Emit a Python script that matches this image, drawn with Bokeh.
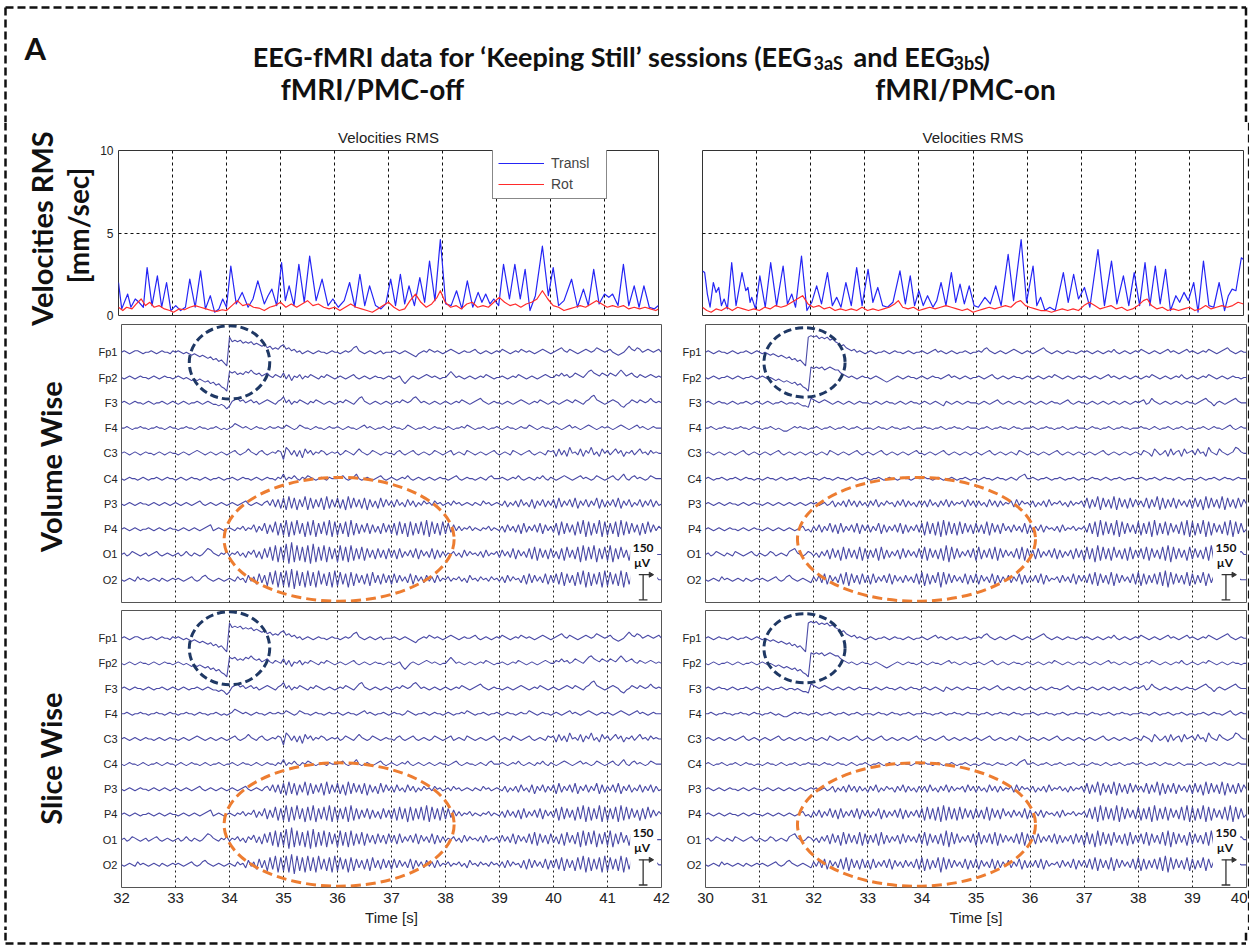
import numpy as np
from bokeh.plotting import figure
from bokeh.layouts import row, column
from bokeh.models import Range1d, LinearAxis, FixedTicker, Grid, Legend, LegendItem
from bokeh.core.properties import value
from bokeh.embed import file_html
from bokeh.resources import INLINE

# ---------------------------------------------------------------- data
CHANNELS = ["Fp1", "Fp2", "F3", "F4", "C3", "C4", "P3", "P4", "O1", "O2"]
TIME_OFF = (32, 42)          # fMRI/PMC-off window [s]
TIME_ON = (30, 40)           # fMRI/PMC-on window [s]
VEL_TICKS = [0, 5, 10]
UV_PER_ROW = 150             # vertical distance between channels [µV]
UV_PER_LEVEL = 9             # one trace level step [µV]
SCALE_UV = 150               # calibration bar [µV]

# Velocities RMS [mm/sec], (time, value) vertices
TRANSL_OFF = [(32.00,2.0),(32.06,0.4),(32.17,1.3),(32.23,0.5),(32.31,1.0),(32.38,0.8),(32.46,0.5),(32.53,2.9),(32.62,0.6),(32.72,2.4),(32.80,0.5),(32.89,2.0),(32.97,0.3),(33.06,0.6),(33.15,0.3),(33.24,0.5),(33.32,2.2),(33.42,0.5),(33.52,2.7),(33.61,0.4),(33.70,1.2),(33.78,0.2),(33.86,0.4),(33.93,1.0),(34.00,0.5),(34.08,3.0),(34.18,0.7),(34.29,1.4),(34.40,0.5),(34.49,1.0),(34.58,2.1),(34.70,0.7),(34.77,1.2),(34.84,1.6),(34.93,0.6),(35.02,3.2),(35.09,0.9),(35.16,1.8),(35.25,0.6),(35.34,3.1),(35.44,0.8),(35.54,3.6),(35.66,0.9),(35.77,2.2),(35.88,0.6),(35.97,1.0),(36.07,0.5),(36.18,0.9),(36.28,2.0),(36.38,0.5),(36.47,2.5),(36.56,0.6),(36.65,1.8),(36.76,0.6),(36.86,0.4),(36.95,0.7),(37.04,2.2),(37.13,0.6),(37.22,2.5),(37.30,0.7),(37.38,1.8),(37.48,0.6),(37.58,2.3),(37.67,0.8),(37.76,3.3),(37.86,0.9),(37.96,4.6),(38.06,0.7),(38.16,0.6),(38.26,1.5),(38.36,0.4),(38.46,2.1),(38.56,0.5),(38.66,1.4),(38.73,0.8),(38.80,1.3),(38.88,0.7),(38.95,1.0),(39.04,0.6),(39.13,3.1),(39.24,1.0),(39.34,3.1),(39.44,1.0),(39.53,2.8),(39.62,0.3),(39.72,1.2),(39.85,4.2),(39.96,1.2),(40.05,2.9),(40.15,0.6),(40.25,0.9),(40.39,2.2),(40.50,0.5),(40.61,1.6),(40.70,0.6),(40.80,2.8),(40.90,0.7),(41.00,1.3),(41.08,1.1),(41.15,1.3),(41.25,0.6),(41.35,3.1),(41.45,0.6),(41.55,1.8),(41.64,0.5),(41.73,1.8),(41.83,0.5),(41.92,0.4),(42.00,0.6)]
ROT_OFF = [(32.00,0.5),(32.08,0.3),(32.15,0.5),(32.25,0.4),(32.33,0.7),(32.42,1.0),(32.50,0.6),(32.58,0.8),(32.66,0.5),(32.75,0.6),(32.85,0.4),(32.95,0.3),(33.02,0.2),(33.12,0.4),(33.22,0.35),(33.32,0.5),(33.42,0.6),(33.52,0.5),(33.62,0.4),(33.72,0.3),(33.82,0.25),(33.92,0.35),(34.00,0.3),(34.10,0.6),(34.20,0.9),(34.30,0.6),(34.40,0.7),(34.50,0.5),(34.60,0.45),(34.70,0.3),(34.80,0.5),(34.90,0.6),(35.00,0.8),(35.10,0.5),(35.20,0.7),(35.30,0.5),(35.40,0.7),(35.50,0.9),(35.60,0.6),(35.70,0.7),(35.80,0.5),(35.90,0.4),(36.00,0.5),(36.10,0.3),(36.20,0.5),(36.30,0.7),(36.40,0.5),(36.50,0.4),(36.60,0.3),(36.70,0.2),(36.80,0.4),(36.90,0.6),(37.00,0.8),(37.10,0.5),(37.20,0.3),(37.30,0.4),(37.40,0.9),(37.50,1.3),(37.60,0.8),(37.70,0.5),(37.80,0.7),(37.90,1.1),(37.96,1.5),(38.05,0.8),(38.15,0.5),(38.25,0.6),(38.35,0.4),(38.45,0.7),(38.55,0.8),(38.65,0.5),(38.75,0.6),(38.85,0.5),(38.95,0.8),(39.05,1.1),(39.15,0.8),(39.25,0.6),(39.35,0.7),(39.45,0.5),(39.55,0.7),(39.65,0.8),(39.75,1.0),(39.85,1.5),(39.95,1.0),(40.05,0.6),(40.15,0.5),(40.25,0.3),(40.35,0.4),(40.45,0.5),(40.55,0.6),(40.65,0.5),(40.75,0.7),(40.85,0.9),(40.95,0.7),(41.05,0.5),(41.15,0.6),(41.25,0.5),(41.35,0.6),(41.45,0.4),(41.55,0.5),(41.65,0.4),(41.75,0.5),(41.85,0.4),(41.95,0.3),(42.00,0.4)]
TRANSL_ON = [(30.00,2.7),(30.04,2.6),(30.09,1.3),(30.14,0.5),(30.20,2.0),(30.25,1.4),(30.30,1.7),(30.35,0.6),(30.40,1.0),(30.46,0.4),(30.54,3.2),(30.62,0.6),(30.73,2.6),(30.80,1.5),(30.84,1.7),(30.88,0.8),(30.91,1.1),(30.98,0.4),(31.06,2.4),(31.16,0.5),(31.26,3.2),(31.37,0.6),(31.49,3.0),(31.57,0.7),(31.65,1.3),(31.72,0.5),(31.83,3.6),(31.93,0.3),(32.02,0.8),(32.11,1.8),(32.20,0.7),(32.31,2.6),(32.40,0.6),(32.48,1.1),(32.56,0.5),(32.65,2.0),(32.75,0.6),(32.85,2.9),(32.95,0.6),(33.06,2.8),(33.15,0.8),(33.24,1.7),(33.33,0.6),(33.42,0.5),(33.52,0.8),(33.65,2.7),(33.75,0.7),(33.84,2.4),(33.92,0.6),(34.00,1.5),(34.08,0.6),(34.16,1.2),(34.26,0.5),(34.33,0.9),(34.41,2.0),(34.50,0.6),(34.60,2.6),(34.68,0.8),(34.76,1.9),(34.84,0.7),(34.93,1.8),(35.02,0.6),(35.10,0.5),(35.22,1.1),(35.32,0.7),(35.42,1.8),(35.52,0.6),(35.65,3.7),(35.75,0.9),(35.89,4.6),(35.99,0.8),(36.11,3.0),(36.18,0.6),(36.25,1.1),(36.33,0.3),(36.42,0.5),(36.52,0.3),(36.67,2.6),(36.76,0.8),(36.86,2.5),(36.95,1.0),(37.06,1.7),(37.16,0.5),(37.31,4.0),(37.43,0.6),(37.56,3.3),(37.66,0.7),(37.78,2.4),(37.88,0.6),(37.98,2.6),(38.08,0.6),(38.18,3.2),(38.27,0.6),(38.37,3.0),(38.46,0.7),(38.56,2.8),(38.65,0.3),(38.75,1.2),(38.82,0.8),(38.90,1.4),(38.98,0.9),(39.08,2.0),(39.16,0.2),(39.26,3.3),(39.36,0.6),(39.45,0.5),(39.55,2.0),(39.65,0.3),(39.72,1.2),(39.79,1.6),(39.86,1.5),(39.96,3.5),(40.00,3.4)]
ROT_ON = [(30.00,0.5),(30.08,0.3),(30.16,0.2),(30.25,0.4),(30.35,0.3),(30.45,0.5),(30.55,0.3),(30.65,0.5),(30.75,0.4),(30.85,0.3),(30.95,0.4),(31.05,0.3),(31.15,0.5),(31.25,0.4),(31.35,0.6),(31.45,0.5),(31.55,0.6),(31.65,0.8),(31.75,1.0),(31.85,1.2),(31.95,0.7),(32.05,0.5),(32.15,0.6),(32.25,0.4),(32.35,0.5),(32.45,0.3),(32.55,0.4),(32.65,0.3),(32.75,0.4),(32.85,0.3),(32.95,0.5),(33.05,0.3),(33.15,0.4),(33.25,0.3),(33.35,0.4),(33.45,0.5),(33.55,0.7),(33.62,0.9),(33.70,0.5),(33.80,0.4),(33.90,0.5),(34.00,0.3),(34.10,0.4),(34.20,0.5),(34.30,0.4),(34.40,0.5),(34.50,0.6),(34.60,0.5),(34.70,0.4),(34.80,0.3),(34.90,0.4),(35.00,0.2),(35.10,0.3),(35.20,0.4),(35.30,0.5),(35.40,0.4),(35.50,0.5),(35.60,0.6),(35.70,0.5),(35.80,0.8),(35.88,0.9),(35.97,0.6),(36.05,0.5),(36.15,0.4),(36.25,0.3),(36.35,0.3),(36.45,0.2),(36.55,0.3),(36.65,0.4),(36.75,0.3),(36.85,0.4),(36.95,0.3),(37.05,0.6),(37.15,0.8),(37.25,0.6),(37.35,0.4),(37.45,0.5),(37.55,0.6),(37.65,0.4),(37.75,0.5),(37.85,0.3),(37.95,0.4),(38.05,0.6),(38.15,0.9),(38.22,1.0),(38.30,0.6),(38.40,0.4),(38.50,0.5),(38.60,0.3),(38.70,0.4),(38.80,0.3),(38.90,0.4),(39.00,0.5),(39.10,0.3),(39.20,0.4),(39.30,0.6),(39.40,0.4),(39.50,0.5),(39.60,0.6),(39.70,0.5),(39.80,0.6),(39.90,0.8),(40.00,0.7)]

# EEG traces, 20 samples per second; each letter is one level, 'm' = 0 µV,
# one letter step = UV_PER_LEVEL µV (groups of one second)
EEG_OFF = {
    "Fp1": "mnmlmnnmlmmnmlmnmmln mnmlmlklkjkjijhighfd wtutuststrsrqrpqopoq ropnomnlmnmlmnmmlmnm mlmnmnpqnmlmnmlmnlmm mnmlmnmlkjlmnmonmnml mnonmlmnmmnomlmnmlmn monmlmnmonmnmlmnonml mnopnmonmlmnonmnponm nomlklmoqonpomnonmno m",
    "Fp2": "mlmnmlmnmmlmnmlmnmml mnmlmlklklkjkijhigfd qpqopoqprpopnopnmonm ploknmolnmonmlnmonml mnmlmnomlmnmlmnmmlmn mlmnkikmnmlmnonmnmlm moqomnmlmnmlmnmonmlm mnmlmnmonmlmnmlmnonm monpnomnponmoqrponpo nponprpnopnmonmnonmn m",
    "F3":  "mnmlmnmmlmnmlmmnmlmn mlmnmlmmnmlmnmllklki knopnomnomnlmnonmlno qmolnmonmlnmonmlmnml mnmonmlnpqnmlmnmlmnm lmnmonmnpqomnmlmnmlm nmlmnmonmlmnopnmlmnm mlmnmlmnonmlmnmonmlm nmlmnonmonmlnoqronml mnonmkjlmonmonmnpnmn m",
    "F4":  "mmnmlmmnmmlmmnmmlmnm mlmmnmmlmnmmlmmnmlml mnponmnmlmnmmlmnmmnm monmlmonmmlmnmmlmnmm nmlmnmmlmnomnmlmmnml mnmmlmonmlmmnmlmnmml mnmlmmnmonmlmmnmlmmn mlmnmmlmnmmonmlmnmml mnmlmnomnmlmnonmlmnm nmlmnonmlmnomnmlmnmm m",
    "C3":  "mnmlmnmlmnmmlmnmlmnm mlmnmlmnonmlmnmlmnml mnomlmnpnmlnomlmnmon iqolokojpmolnmonlmnm nlmonmlnpnmlmonmlmnm mlnomlmnomlmnmlmonml mnolmnmlonmlmnmlmnom lmnmlonmlmnomlmnmlon okplokqmnlpkomqlnkpm olnpmoknmolnpmnlomnm m",
    "C4":  "mlmnmmlmnmlmmnmlmnmm lmnmlmnmmlmnmlmmnmlm mnmlmnmmlmnmlmnmmlnm plnmomlnmonmlmnmlnmm mnomlmnpmlmnmlmnomlm nmlmnmomlmnmlmnmlmnm mlmnomlmnmmlmnmlnomm mnmlmnmomlmnmlnmomln mlmnonmlmnomnmlmonml mnomlnpmlnomnmlmonmm m",
    "P3":  "mlmnmlmnmmlmnmlmnmlm nmlmnmlmnomlmnmlmnml mnmlmnomlmnmlnolpkpj qirjqipkriqjpkqirjpk qjpirjqkpjqipkojqkpl okplnkploknlomnlomnl mnlomnlmnmlnmlomnlmn mloknlokplnkpjolpkol pjqkolpkqjolpkolqjpk olpkqjolpknlpkolpkol m",
    "P4":  "mnmlmnmlmmnmlmnmlmnm mlmnmlmnmlmnoplmnmlm nmlnmolnmpkolqjpkriq ishrisjqhrishqjrishr iqjrhsiqjpkqjpkojqkp jqirjqhriqjrishrjqir jqkplolnmolnmlnmolnm lokplokpjqkolpkqjplo kqirjqkpirjshriqjshr iqjrhsirjqkpiqjrkplo m",
    "O1":  "mnlmonmlmnlmnomlmnml mnlmomlnmlmoqpnmlnmo lnmolnkompkojqkrishr itguhsirhsgthrishrjq hsirhsiqjriqkpjqkpjq kpjqkolpkqjplokqjpko lnmolnkplomnlokplnmo kplokqjplokqjriqkpjq kojqirkpjrhsirjshqjr ishqjrkpirgqjpkolnmm m",
    "O2":  "mlmnmlomnmlmnmlnmlmn mnmlmnomlmopnmlmnmlm nmlomnkplojqkpirjshr ishtgsirhsirhsjqirhs irjqhriqkpjqirkpjqkp jqkplokqjplokplokpln molnmolnkpmnlomnlomn lokplomnkpjqkplokqjp kqjriqkpirjshriqjrhs irjqishrjqkplomnmnom m",
}
EEG_ON = {
    "Fp1": "mnmlmnmmlmnmlmmnmlmn mlmlklkjkjijhighfdwx wxvwvwuvtsqrponomnml mnmlmmnmlmnmmlmnmlmm nmlmnomnmlmnmlmmnmlm mnmopnmlmnmlmnonmlmn mlmnopnmlmnmlmnmmlmn mnmlmnmlmnmomlmnmlmn monmlmnmlmnomnmlmnom nmlmnmonmlmnopnmlmnm m",
    "Fp2": "mlmnmlmmnmlmnmlmmnml mnmlmlklkjkjijhigfdt ststrstsrrponmnmlmnm mlmnmlkjklmnmlmnmmlm nmlmnmmlmnomnmlmnmlm mnmlmnomlmnmlmnmmlmn mlmnmlmnmonmlmnmlmnm nmlmnmlmnomnmlmnmlmn mlmnmonmlmnmlmnmomlm nmlmnmonmlmnmlmnmmlm m",
    "F3":  "mnmlmnmmlmnmlmmnmlmn mlmnmlmmnmlmmlmlkkjp onmnonmlmnmlmnmlmnmm mlmnmlmnmmlmnmlmnmml mnmlmnmlknmlmnmlmnmm mlmnmlmnomlmnmlmnmlm nmlmnmlmnmmlmnomlmnm mlmnmlmnmlmnmlmnmlmn mnolmpnmlmnmlmnmlmnm mlmnopnmkmnmlmnopnmm m",
    "F4":  "mmnmlmmnmmlmmnmmlmnm mlmmnmlmlkklmnmnmmlm mnmlmmnmlmmnmlmmnmlm mmlmnmmlmnmmlmmnmlmm mnmmlmmnmlmmnmmlmnmm mlmmnmlmmnmmlmnmmlmm mnmlmmnmmlmmnmlmmnmm mlmnmmlmmnmlmmnmmlmm mnmmlmnmlmmnmlmmnmlm mlmmnmlmnmmlmnomlmnm m",
    "C3":  "mnmlmnmlmnmlmnomlmnm lmnmlmnomlmnmlmnmlmn mlmnmlonmlmnmlmnomlm nmlmnomlmnmlmnmlmnom mlmnmlmnomlmnmlmnmlm nmlmnomlmnmlmnmlonml mnmlmnmlmnomlmnmlmnm lmnmlmnomlmnmlmnmlmn mlonmkpnlmokplnokpmn olpmnkqnmlpnmlmnqpnm m",
    "C4":  "mnmlmmnmlmmnmlmnmmlm mlmnmmlmnmlmmnmlmmnm mmlmnmmlmnmmlmnmlmmn mlmmnmlmnmmlmnmmlmnm mnmmlmnmlmmnmlmmnmlm mlmnmmlmnmmlmnmlnopm mnmlmmnmlmmnmlmmnmlm mlmnmmlmnmlmmnmlmmnm mnmlmmnmlmnmmlmnmlmm mlmnmlmmnmlmnmmlmnmm m",
    "P3":  "mnmlmnmlmnmmlmnmlmnm mlmnmlmnmlmnmlmnmlmn mnlmnlmoknlokplokoln kolpknlomnkolpkolnko lokplnkolpkolnmokplo kolnkplokolnmokplomn loknlokplnmolnkolnmo kqjpkriqkpjriqkpjqkp lokqjpkriqjpkqjplokp jqkpirjqkpjriqkpjqkp m",
    "P4":  "mnmlmnmlmnmmlmnmlmnm mlmnmlmnmlmnmlmnolmk olpkolqkpjqkolpkqjpl pkolqjpkolpkqjpkolpk qirjqirhsirjqirjqkpj qkpjriqkpjqlokplokqj pkolpkomnlokplnmolnm okqjrhsirjqishrjqkpj riqjrhsiqjriqkpjrish riqjshriqkpjrishrjqk m",
    "O1":  "mnlmonmlnmlonmlmnoml nmlmonlmnmlopqnmlmon lnkolpjqkpirjqkpjriq jpkqirjpkolpjqkplokq jriqkpjqishrjqkolpkq irjpkqjriqkplokqjriq kpjqkolpkqjpkolpjqkp irjqhsirjqirkpjqirjp kqjriqkpjrishrjqkpir jqkpjrishqkplomnmnom m",
    "O2":  "mlmnmlomnmlmnmlnmlmn mnmlmnomlmopnmlmnmlk olpkqjplokqjriqkpjqk pjqkolpkqjplokplokqj riqjpkrhrjqkplokqjpk qjplokqjpkolpkolqjpk olpkqjplnmokplokqjpl pkqjriqkpjriqkplokqj riqjpkqjrishrjqkpjri qjpkriqkplomnmonmnmm m",
}

# marked regions: (centre time, centre row, width [s], height [rows])
BLINK_OFF = (34.00, 9.6, 1.49, 2.9)
ALPHA_OFF = (36.03, 2.6, 4.26, 4.9)
BLINK_ON = (31.83, 9.6, 1.50, 2.75)
ALPHA_ON = (33.90, 2.6, 4.40, 4.9)
SCALEBAR_OFF = 41.66
SCALEBAR_ON = 39.62

# ---------------------------------------------------------------- style
SANS = "Liberation Sans"
NARROW = "Liberation Sans Narrow, Liberation Sans, sans-serif"
BOLD = "Lato"
TRACE = "#4a4aa6"
NAVY = "#1f3864"
ORANGE = "#ed7d31"
BORDER = dict(line_color="#111111", line_width=2.5, line_dash="8 4")


def decode(codes):
    return [(ord(c) - ord("m")) * UV_PER_LEVEL for c in codes.replace(" ", "")]


def pixel_fig(w, h):
    p = figure(width=w, height=h, x_range=Range1d(0, w), y_range=Range1d(h, 0),
               x_axis_type=None, y_axis_type=None, toolbar_location=None,
               output_backend="svg", min_border=0)
    p.outline_line_color = None
    p.background_fill_color = "white"
    p.border_fill_color = "white"
    return p


def panel(fw, fh, xr, yr, mbl, mbr, mbt, mbb, title=None):
    p = figure(frame_width=fw, frame_height=fh, x_range=Range1d(*xr), y_range=Range1d(*yr),
               x_axis_type=None, y_axis_type=None, toolbar_location=None,
               output_backend="svg", min_border_left=mbl, min_border_right=mbr,
               min_border_top=mbt, min_border_bottom=mbb, title=title)
    p.outline_line_color = "#333333"
    p.outline_line_width = 1
    p.background_fill_color = "white"
    p.border_fill_color = "white"
    return p


def style_axis(ax, size="12px", font=SANS):
    ax.major_tick_out = 0
    ax.major_tick_in = 0
    ax.minor_tick_out = 0
    ax.minor_tick_in = 0
    ax.axis_line_color = None
    ax.major_label_text_font = font
    ax.major_label_text_font_size = size
    ax.major_label_text_color = "#222222"


def velocity_panel(xr, transl, rot, left):
    p = panel(540 if left else 541, 165, xr, (0, 10), 23 if left else 30,
              14 if left else 1, 26, 9, title="Velocities RMS")
    p.title.align = "center"
    p.title.text_font = SANS
    p.title.text_font_size = "15px"
    p.title.text_font_style = "normal"
    p.title.text_color = "#222222"
    p.title.standoff = 9
    inner = list(range(xr[0] + 1, xr[1]))
    p.add_layout(Grid(dimension=0, ticker=FixedTicker(ticks=inner), grid_line_color="#111111",
                      grid_line_dash="3 3", grid_line_width=1))
    p.add_layout(Grid(dimension=1, ticker=FixedTicker(ticks=[5]), grid_line_color="#111111",
                      grid_line_dash="3 3", grid_line_width=1))
    if left:
        ax = LinearAxis(ticker=FixedTicker(ticks=VEL_TICKS))
        style_axis(ax, "12px")
        ax.major_label_standoff = 5
        p.add_layout(ax, "left")
    t, v = zip(*transl)
    rb = p.line(list(t), list(v), line_color="#2525f5", line_width=1.2, line_join="round")
    t, v = zip(*rot)
    rr = p.line(list(t), list(v), line_color="#ff2a2a", line_width=1.2, line_join="round")
    if left:
        leg = Legend(items=[LegendItem(label="Transl", renderers=[rb]),
                            LegendItem(label="Rot", renderers=[rr])],
                     location=(374, 116), margin=0, padding=5, spacing=3,
                     glyph_width=46, glyph_height=18, label_height=18, label_width=50,
                     label_standoff=7, label_text_font=SANS, label_text_font_size="14px",
                     border_line_color="#111111", border_line_width=1,
                     background_fill_color="white", background_fill_alpha=1)
        p.add_layout(leg)
    return p


def eeg_panel(xr, codes, left, bottom, blink, alpha, bar_x):
    fh = 277 if bottom else 278
    p = panel(540 if left else 541, fh, xr, (0.1, 11.1), 23 if left else 30,
              14 if left else 1, 4 if bottom else 0, 45 if bottom else 4)
    p.outline_line_color = "#555555"
    inner = list(range(xr[0] + 1, xr[1]))
    p.add_layout(Grid(dimension=0, ticker=FixedTicker(ticks=inner), grid_line_color="#222222",
                      grid_line_dash="2 3", grid_line_width=1))
    n = len(CHANNELS)
    yax = LinearAxis(ticker=FixedTicker(ticks=list(range(1, n + 1))),
                     major_label_overrides={n - i: ch for i, ch in enumerate(CHANNELS)})
    style_axis(yax, "11px")
    yax.major_label_standoff = 4
    p.add_layout(yax, "left")
    if bottom:
        xax = LinearAxis(ticker=FixedTicker(ticks=list(range(xr[0], xr[1] + 1))),
                         axis_label="Time [s]")
        style_axis(xax, "15px", NARROW)
        xax.major_label_standoff = 5
        xax.axis_label_standoff = 3
        xax.axis_label_text_font = NARROW
        xax.axis_label_text_font_size = "15px"
        xax.axis_label_text_font_style = "normal"
        xax.axis_label_text_color = "#222222"
        p.add_layout(xax, "below")

    xs, ys = [], []
    for i, ch in enumerate(CHANNELS):
        uv = decode(codes[ch])
        t = np.linspace(xr[0], xr[1], len(uv))
        xs.append(t.tolist())
        ys.append([(n - i) + u / UV_PER_ROW for u in uv])
    p.multi_line(xs, ys, line_color=TRACE, line_width=1.1)

    # calibration bar on a white patch
    p.quad(left=[bar_x - 0.24], right=[bar_x + 0.26], bottom=[0.12], top=[2.5],
           fill_color="white", line_color=None)
    y0 = 0.2
    y1 = y0 + SCALE_UV / UV_PER_ROW
    p.segment(x0=[bar_x, bar_x - 0.08, bar_x - 0.08], y0=[y0, y0, y1],
              x1=[bar_x, bar_x + 0.08, bar_x + 0.13], y1=[y1, y0, y1],
              line_color="#333333", line_width=1.3)
    p.scatter([bar_x + 0.14], [y1], marker="triangle", angle=-np.pi / 2, size=5,
              fill_color="#333333", line_color="#333333")
    p.text([bar_x], [y1 + 1.05], text=[str(SCALE_UV)], text_font=value(BOLD),
           text_font_style="bold", text_font_size="12px", text_align="center",
           text_baseline="middle", text_color="#111111")
    p.text([bar_x - 0.02], [y1 + 0.5], text=["µV"], text_font=value(BOLD),
           text_font_style="bold", text_font_size="12px", text_align="center",
           text_baseline="middle", text_color="#111111")

    for (cx, cy, w, h), col, dash in ((blink, NAVY, "8 4"), (alpha, ORANGE, "10 5")):
        p.ellipse(x=[cx], y=[cy], width=[w], height=[h], fill_color=None,
                  line_color=col, line_width=3, line_dash=dash)
    return p


# ---------------------------------------------------------------- header
W, H_HEAD, H_BODY, H_FOOT = 1249, 122, 808, 17
XL, XR = 5, 1245.5

head = pixel_fig(W, H_HEAD)
head.segment(x0=[XL, XL, XR], y0=[7, 7, 7], x1=[XR, XL, XR], y1=[7, H_HEAD, H_HEAD], **BORDER)
bold = dict(text_font=value(BOLD), text_font_style="bold", text_color="#111111")
head.text([24], [47], text=["A"], text_font_size="31px", text_align="left",
          text_baseline="middle", **bold)
head.text([812], [56], text=["EEG-fMRI data for \u2018Keeping Still\u2019 sessions (EEG"],
          text_font_size="27px", text_align="right", text_baseline="alphabetic", **bold)
head.text([813], [62], text=["3aS"], text_font_size="18px", text_align="left",
          text_baseline="alphabetic", **bold)
head.text([853], [56], text=["and EEG"], text_font_size="27px", text_align="left",
          text_baseline="alphabetic", **bold)
head.text([953], [62], text=["3bS"], text_font_size="18px", text_align="left",
          text_baseline="alphabetic", **bold)
head.text([982], [56], text=[")"], text_font_size="27px", text_align="left",
          text_baseline="alphabetic", **bold)
head.text([372, 965], [88, 88], text=["fMRI/PMC-off", "fMRI/PMC-on"], text_font_size="28px",
          text_align="center", text_baseline="middle", **bold)

# ---------------------------------------------------------------- row labels
ROW0 = 126 - H_HEAD   # extra offset of the label column below the header
labels = pixel_fig(95, H_BODY)
labels.segment(x0=[XL], y0=[0], x1=[XL], y1=[H_BODY], **BORDER)
labels.text([41, 50, 50], [102 + ROW0, 340 + ROW0, 632 + ROW0],
            text=["Velocities RMS", "Volume Wise", "Slice Wise"],
            angle=np.pi / 2, text_font_size="29px", text_align="center",
            text_baseline="middle", **bold)
labels.text([77], [99 + ROW0], text=["[mm/sec]"], angle=np.pi / 2, text_font_size="28px",
            text_align="center", text_baseline="middle", **bold)

strip = pixel_fig(5, H_BODY)
strip.segment(x0=[1.5], y0=[0], x1=[1.5], y1=[H_BODY], **BORDER)

foot = pixel_fig(W, H_FOOT)
foot.segment(x0=[XL, XL, XR], y0=[11, 0, 0], x1=[XR, XL, XR], y1=[11, 11, 11], **BORDER)

# ---------------------------------------------------------------- panels
vel_off = velocity_panel(TIME_OFF, TRANSL_OFF, ROT_OFF, True)
vel_on = velocity_panel(TIME_ON, TRANSL_ON, ROT_ON, False)
vol_off = eeg_panel(TIME_OFF, EEG_OFF, True, False, BLINK_OFF, ALPHA_OFF, SCALEBAR_OFF)
vol_on = eeg_panel(TIME_ON, EEG_ON, False, False, BLINK_ON, ALPHA_ON, SCALEBAR_ON)
sl_off = eeg_panel(TIME_OFF, EEG_OFF, True, True, BLINK_OFF, ALPHA_OFF, SCALEBAR_OFF)
sl_on = eeg_panel(TIME_ON, EEG_ON, False, True, BLINK_ON, ALPHA_ON, SCALEBAR_ON)

grid_body = column(row(vel_off, vel_on), row(vol_off, vol_on), row(sl_off, sl_on))
page = column(head, row(labels, grid_body, strip), foot)

open("out.html", "w").write(file_html(page, INLINE))
